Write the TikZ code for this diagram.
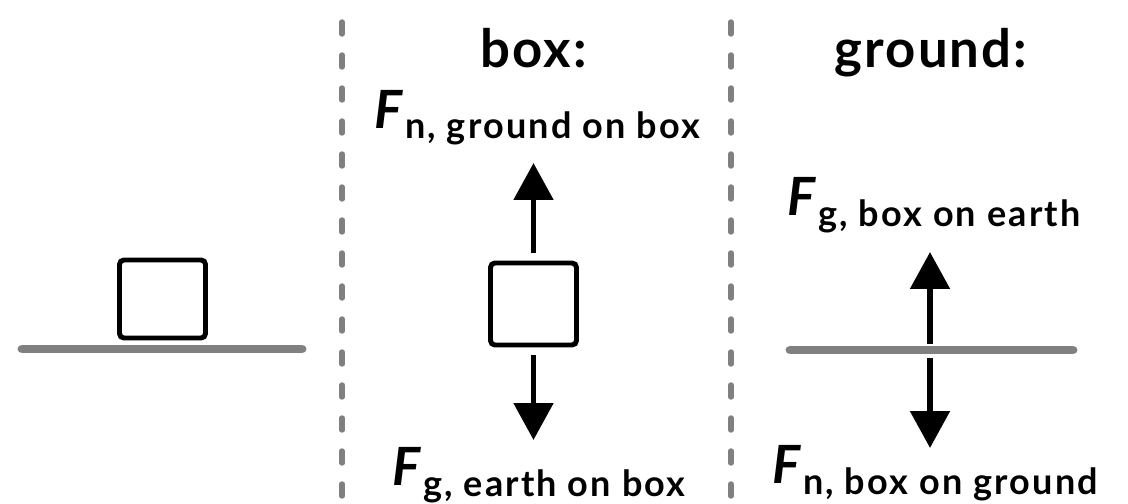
\documentclass[tikz,border=0pt]{standalone}
\usepackage{fontspec}
\setmainfont{Lato}
\newfontfamily\subfont{Lato}[LetterSpace=6]
\newfontfamily\titlefont{Lato}[LetterSpace=4]
\usetikzlibrary{arrows.meta}
\definecolor{lineGray}{HTML}{808080}
\newcommand{\forcelab}[3]{\textit{F}\kern1pt\raisebox{#1}{\subfont\bfseries\fontsize{20.5}{24}\selectfont #3}}

\begin{document}
\begin{tikzpicture}[line width=2.8pt,
  divider/.style={draw=lineGray, line width=3.1pt, line cap=round, dash pattern=on 0.24cm off 0.42cm},
  groundline/.style={draw=lineGray, line width=5.1pt, line cap=round},
  block/.style={draw, rectangle, rounded corners=2.5pt, minimum width=1.72cm, minimum height=1.64cm, inner sep=0pt},
  force/.style={line width=3.4pt, -{Triangle[width=22pt, length=21pt]}},
  title/.style={font=\titlefont\bfseries\fontsize{30}{36}\selectfont, inner sep=0pt, anchor=base},
  flabel/.style={font=\bfseries\fontsize{30}{36}\selectfont, inner sep=0pt, anchor=base west}]
  \useasboundingbox (0,0) rectangle (22.56,10.06);
  % dividers
  \foreach \x in {6.84, 14.62} { \draw[divider] (\x,9.62) -- (\x,0); }
  % box resting on the ground
  \draw[groundline] (0.44,3.08) -- (6.04,3.08);
  \node[block, minimum height=1.56cm] (boxA) at (3.25,4.08) {};
  % free body diagram of the box
  \node[title] (boxT) at (10.67,8.72) {box:};
  \node[block] (boxB) at (10.67,3.98) {};
  \coordinate (upB) at (10.67,6.8);
  \coordinate (dnB) at (10.67,1.26);
  \draw[force] ([yshift=0.16cm]boxB.north) -- (upB);
  \draw[force] ([yshift=-0.16cm]boxB.south) -- (dnB);
  \node[flabel] (fnB) at (7.44,7.5) {\forcelab{-0.19em}{F}{n, ground on box}};
  \node[flabel] (fgB) at (7.8,0.36) {\forcelab{-0.22em}{F}{g, earth on box}};
  % free body diagram of the ground
  \node[title] (groundT) at (18.62,8.72) {ground:};
  \draw[groundline] (15.8,3.06) -- (21.46,3.06);
  \coordinate (gC) at (18.6,3.06);
  \coordinate (upG) at (18.6,5.02);
  \coordinate (dnG) at (18.6,1.1);
  \draw[force] ([yshift=0.12cm]gC) -- (upG);
  \draw[force] ([yshift=-0.16cm]gC) -- (dnG);
  \node[flabel] (fgG) at (15.7,5.76) {\forcelab{-0.22em}{F}{g, box on earth}};
  \node[flabel] (fnG) at (15.4,0.4) {\forcelab{-0.22em}{F}{n, box on ground}};
\end{tikzpicture}
\end{document}
